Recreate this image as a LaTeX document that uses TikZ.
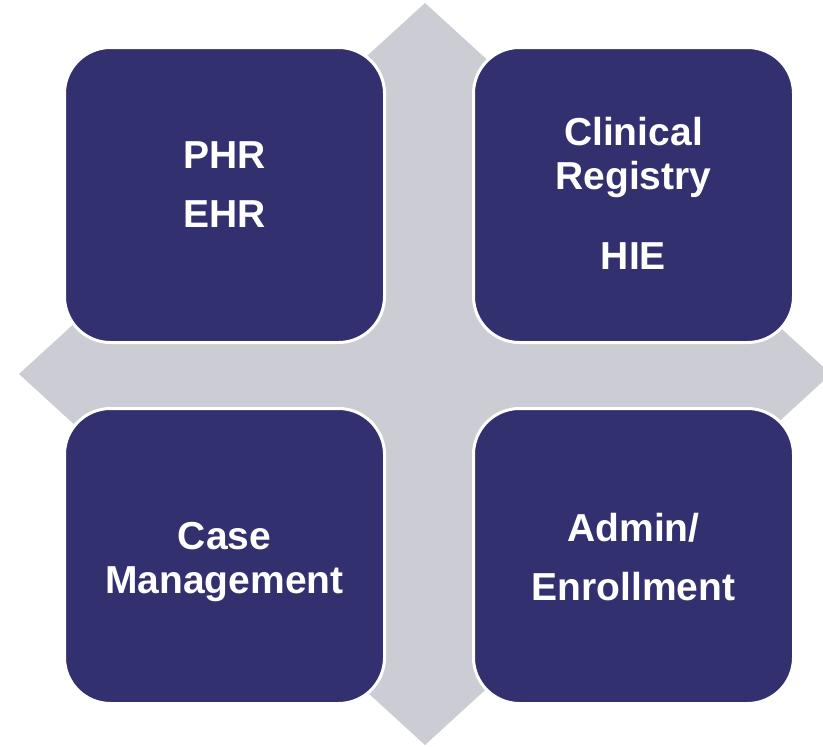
\documentclass[tikz,border=0pt]{standalone}
\usepackage{fontspec}
\setmainfont{Liberation Sans}
\definecolor{navy}{HTML}{333070}
\definecolor{backdrop}{HTML}{CBCCD4}
\begin{document}
\begin{tikzpicture}[x=1pt,y=-1pt,
  tile/.style={draw=white, line width=3pt, fill=navy, rounded corners=46pt,
    minimum width=320pt, minimum height=295pt, inner sep=0pt},
  caption/.style={anchor=base, text=white, inner sep=0pt,
    font=\bfseries\fontsize{39}{44}\selectfont}]
  \useasboundingbox (0,0) rectangle (823,747);
  \clip (0,0) rectangle (823,747);
  % diamond backdrop
  \fill[backdrop] (425,3) -- (19,374) -- (425,745) -- (831,374) -- cycle;
  % four tiles
  \node[tile] (tl) at (224.5,195) {};
  \node[tile] (tr) at (633.5,195) {};
  \node[tile] (bl) at (224.5,556) {};
  \node[tile] (br) at (633.5,556) {};
  % captions
  \node[caption] (phr) at (224.5,168) {PHR};
  \node[caption] (ehr) at (224.5,227) {EHR};
  \node[caption] (clin) at (633.5,145) {Clinical};
  \node[caption] (reg) at (633.5,189) {Registry};
  \node[caption] (hie) at (633.5,269) {HIE};
  \node[caption] (case) at (224.5,549) {Case};
  \node[caption] (mgmt) at (224.5,593) {Management};
  \node[caption] (admin) at (633.5,541) {Admin/};
  \node[caption] (enrol) at (633.5,600) {Enrollment};
\end{tikzpicture}
\end{document}
